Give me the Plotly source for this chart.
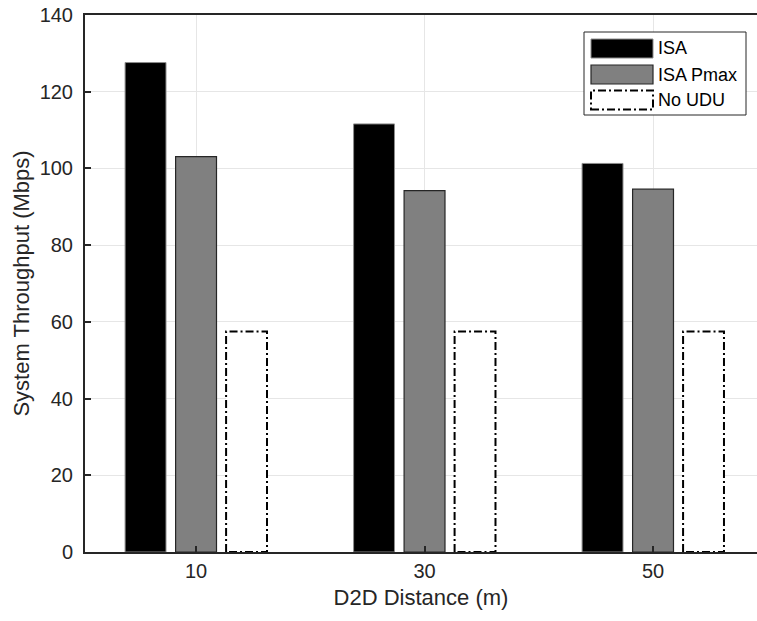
import plotly.graph_objects as go

categories = ["10", "30", "50"]
isa = [127.6, 111.6, 101.3]
isa_pmax = [103.1, 94.2, 94.6]
no_udu = [57.5, 57.5, 57.5]
series_names = ["ISA", "ISA Pmax", "No UDU"]
y_ticks = [0, 20, 40, 60, 80, 100, 120, 140]

TXT = "#262626"
FONT = "Liberation Sans, Arial, Helvetica, sans-serif"
slot = 0.221
bw = 0.179
idx = list(range(len(categories)))
DASH = "8px,3px,2px,3px"

fig = go.Figure()
fig.add_trace(go.Bar(x=[i - slot for i in idx], y=isa, width=bw, name=series_names[0],
                     marker=dict(color="#000000", line=dict(color="#8c8c8c", width=1)),
                     showlegend=False))
fig.add_trace(go.Bar(x=idx, y=isa_pmax, width=bw, name=series_names[1],
                     marker=dict(color="#808080", line=dict(color="#262626", width=1.2)),
                     showlegend=False))
fig.add_trace(go.Bar(x=[i + slot for i in idx], y=no_udu, width=bw, name=series_names[2],
                     marker=dict(color="#ffffff", line=dict(width=0)),
                     showlegend=False))
# dash-dot outline for the No UDU bars
ox, oy = [], []
for i, v in zip(idx, no_udu):
    x0, x1 = i + slot - bw / 2, i + slot + bw / 2
    ox += [x0, x0, x1, x1, x0, None]
    oy += [0, v, v, 0, 0, None]
fig.add_trace(go.Scatter(x=ox, y=oy, mode="lines", showlegend=False, hoverinfo="skip",
                         line=dict(color="#000000", width=2, dash=DASH)))

# manual legend (MATLAB style)
def px(x):
    return (x - 85) / 672
def py(y):
    return (552 - y) / 537

fig.add_shape(type="rect", xref="paper", yref="paper", x0=px(584), x1=px(746), y0=py(32), y1=py(115),
              line=dict(color=TXT, width=1), fillcolor="white", layer="above")
legend_fill = ["#000000", "#808080", "#ffffff"]
legend_line = [dict(color="#8c8c8c", width=1), dict(color="#262626", width=1.2),
               dict(color="#000000", width=2, dash=DASH)]
rows = [48.5, 74.5, 100]
for name, fc, ln, yc in zip(series_names, legend_fill, legend_line, rows):
    fig.add_shape(type="rect", xref="paper", yref="paper", x0=px(591), x1=px(653),
                  y0=py(yc + 9.5), y1=py(yc - 9.5), fillcolor=fc, line=ln, layer="above")
    fig.add_annotation(xref="paper", yref="paper", x=px(656), y=py(yc), text=name,
                       showarrow=False, xanchor="left", yanchor="middle",
                       font=dict(family=FONT, size=18, color="#000000"))

fig.update_layout(
    width=757, height=621,
    margin=dict(l=85, r=0, t=15, b=69, autoexpand=False),
    plot_bgcolor="white", paper_bgcolor="white",
    barmode="overlay",
    font=dict(family=FONT, color=TXT, size=20),
    xaxis=dict(
        range=[-0.486, 2.455], tickmode="array", tickvals=idx, ticktext=categories,
        showgrid=True, gridcolor="#e6e6e6", gridwidth=1,
        showline=True, linecolor=TXT, linewidth=2, mirror=True,
        ticks="inside", ticklen=6, tickcolor=TXT, tickwidth=1.5,
        tickfont=dict(size=20, color=TXT), zeroline=False, automargin=False,
        title=dict(text="D2D Distance (m)", font=dict(size=22, color=TXT), standoff=9),
    ),
    yaxis=dict(
        range=[0, 140], tickmode="array", tickvals=y_ticks,
        showgrid=True, gridcolor="#e6e6e6", gridwidth=1,
        showline=True, linecolor=TXT, linewidth=2, mirror=False,
        ticks="inside", ticklen=6, tickcolor=TXT, tickwidth=1.5,
        tickfont=dict(size=20, color=TXT), zeroline=False, ticklabelstandoff=6,
        automargin=False,
        title=dict(text="System Throughput (Mbps)", font=dict(size=22, color=TXT), standoff=4),
    ),
)
fig.write_html("out.html", config={"displayModeBar": False},
               post_script="document.body.style.margin='0px';document.body.style.overflow='hidden';")
